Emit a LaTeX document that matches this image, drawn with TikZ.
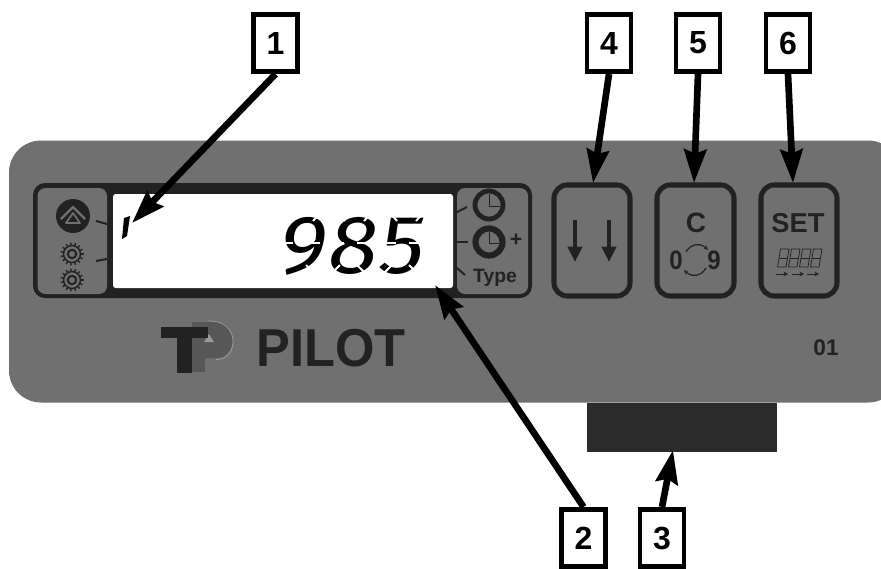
\documentclass[tikz,border=0pt]{standalone}
\usepackage{fontspec}
\setmainfont{Liberation Sans}
\newfontfamily\lcdfont[FakeSlant=0.14,LetterSpace=2]{Fira Sans}
\usetikzlibrary{arrows.meta,calc}
\definecolor{panelgray}{HTML}{707070}
\definecolor{darkline}{HTML}{222222}
\tikzset{
  x=0.75pt,y=-0.75pt,
  callout/.style={draw=black,fill=white,line width=3.6pt,minimum width=33pt,minimum height=43pt,inner sep=0pt,font=\bfseries\fontsize{24}{24}\selectfont},
  conn/.style={draw=black,line width=5pt,-{Stealth[length=25pt,width=16.5pt,inset=3pt]}},
  btn/.style={draw=darkline,fill=panelgray,line width=3.8pt,rounded corners=10pt},
  tick/.style={draw=darkline,line width=1.5pt},
  lbl/.style={text=darkline,inner sep=0pt},
  gearc/.style={draw=darkline,line width=1.1pt},
  cut/.style={draw=white,line width=1.5pt},
}
\newcommand{\geardraw}[2]{%
  \draw[gearc] (#1,#2) circle[radius=8.5];
  \draw[draw=darkline,line width=1.5pt] (#1,#2) circle[radius=4.2];
  \foreach \a in {0,24,...,336}
    \draw[draw=darkline,line width=1pt] ($(#1,#2)+(\a:8.5)$) -- ($(#1,#2)+(\a:11.5)$);
}
\newcommand{\smalleight}[1]{%
  \draw[draw=darkline,line width=0.55pt] (#1+1.5,267) -- (#1+4.5,249) -- (#1+13,249) -- (#1+10,267) -- cycle;
  \draw[draw=darkline,line width=0.55pt] (#1+3,258) -- (#1+11.5,258);
}
% cuts that split a digit into LCD segments: #1 = x of the lower left corner
\newcommand{\lcdcuts}[1]{%
  \draw[cut] (#1+5,210) -- (#1+14,221);
  \draw[cut] (#1+43,210) -- (#1+33,221);
  \draw[cut] (#1-2,276) -- (#1+9,265);
  \draw[cut] (#1+37,276) -- (#1+26,265);
  \draw[cut] (#1+1,243) -- (#1+13,243);
  \draw[cut] (#1+26,243) -- (#1+40,243);
}
\begin{document}
\begin{tikzpicture}
\useasboundingbox (0,0) rectangle (881,568);
\clip (0,0) rectangle (881,568);
\fill[white] (0,0) rectangle (881,568);
% panel
\fill[panelgray,rounded corners=24pt] (9,140.5) rectangle (900,402.5);
\fill[fill=black!83] (587,403) rectangle (777,452);
% display housing
\fill[darkline,rounded corners=9pt] (33,183) rectangle (532,298);
\fill[panelgray,rounded corners=6pt] (37.5,188) rectangle (107,294);
\fill[panelgray,rounded corners=6pt] (457,188) rectangle (528,294);
\fill[white,rounded corners=2pt] (113,194) rectangle (453,288);
% lone segment
\fill[black] (124,218) -- (130,216) -- (127,236) -- (122,239) -- cycle;
% LCD digits as text, split into segments
\node[inner sep=0pt,anchor=base,text=black,xscale=1.09] (lcd) at (349,273) {\lcdfont\fontsize{62}{62}\selectfont 985};
\lcdcuts{280}
\lcdcuts{331}
\lcdcuts{383}
% left icons
\fill[darkline] (73,216) circle[radius=17];
\draw[draw=panelgray,line width=1.7pt,line join=round] (61,219) -- (73,207) -- (85,219);
\draw[draw=panelgray,line width=1.3pt,line join=round] (73,213) -- (80,223) -- (66,223) -- cycle;
\geardraw{72}{254}
\geardraw{72}{280}
\draw[tick] (96,221) -- (107,224);
\draw[tick] (96,261) -- (107,259);
% right icons
\draw[draw=darkline,line width=3.6pt] (489,205) circle[radius=14];
\draw[draw=darkline,line width=0.7pt] (489,194) -- (489,206) -- (500,206);
\draw[draw=darkline,line width=4.6pt] (489,242) circle[radius=13.5];
\draw[draw=darkline,line width=0.7pt] (489,232) -- (489,243) -- (499,243);
\node[lbl,font=\bfseries\fontsize{16}{16}\selectfont] (plus) at (516,240) {+};
\node[lbl,font=\bfseries\fontsize{14.5}{14.5}\selectfont] (typ) at (495,278) {Type};
\draw[tick] (455,213) -- (467,207);
\draw[tick] (457,242) -- (468,242);
\draw[tick] (457,268) -- (465,275);
% buttons
\draw[btn] (554,185) rectangle (630,296);
\draw[btn] (657,185) rectangle (734,296);
\draw[btn] (761,185) rectangle (837,296);
\draw[draw=darkline,line width=3pt,-{Triangle[length=11.5pt,width=10.5pt]}] (575,220) -- (575,262);
\draw[draw=darkline,line width=3pt,-{Triangle[length=11.5pt,width=10.5pt]}] (609,220) -- (609,262);
\node[lbl,font=\bfseries\fontsize{21}{21}\selectfont] (c) at (696,223) {C};
\node[lbl,font=\bfseries\fontsize{20}{20}\selectfont,xscale=.9] (zero) at (676,260) {0};
\node[lbl,font=\bfseries\fontsize{20}{20}\selectfont,xscale=.9] (nine) at (714,260) {9};
\draw[draw=darkline,line width=0.9pt,-{Stealth[length=3.5pt,width=3pt]}] (686,252) .. controls (691,243) and (701,243) .. (708,250);
\draw[draw=darkline,line width=0.9pt,-{Stealth[length=3.5pt,width=3pt]}] (706,268) .. controls (701,277) and (691,277) .. (684,270);
\node[lbl,font=\bfseries\fontsize{20.5}{20.5}\selectfont] (set) at (798,223) {SET};
\smalleight{776}
\smalleight{787}
\smalleight{798}
\smalleight{809}
\foreach \xa in {776,792,807}
  \draw[draw=darkline,line width=0.7pt,-{Stealth[length=3.5pt,width=3.5pt]}] (\xa,274) -- (\xa+12,274);
% logo
\fill[black!66] (192,322) rectangle (205,372);
\fill[black!66] (205,322) -- (216,322) .. controls (238,322) and (238,358) .. (216,358) -- (205,358) -- cycle;
\draw[draw=black!40,line width=0.6pt] (208,321) .. controls (240,319) and (240,360) .. (216,359.5);
\fill[black!40] (204,342) -- (209,334) -- (214,342) -- cycle;
\fill[darkline] (161,327) rectangle (208,338);
\fill[darkline] (177,338) rectangle (192,373);
\node[lbl,font=\bfseries\fontsize{40}{40}\selectfont,xscale=.95] (pilot) at (331,348) {PILOT};
\node[lbl,font=\bfseries\fontsize{17}{17}\selectfont] (num) at (826,348) {01};
% callouts
\node[callout] (b1) at (275.5,43) {1};
\node[callout] (b2) at (583.5,538) {2};
\node[callout] (b3) at (662,538) {3};
\node[callout] (b4) at (609,43) {4};
\node[callout] (b5) at (698,43) {5};
\node[callout] (b6) at (788,43) {6};
\coordinate (t1) at (132,223);
\coordinate (t2) at (435,285);
\coordinate (t3) at (673,450);
\coordinate (t4) at (593,183);
\coordinate (t5) at (694,183);
\coordinate (t6) at (793,183);
\draw[conn] (b1.south) -- (t1);
\draw[conn] (b2.north) -- (t2);
\draw[conn] (b3.north) -- (t3);
\draw[conn] (b4.south) -- (t4);
\draw[conn] (b5.south) -- (t5);
\draw[conn] (b6.south) -- (t6);
\end{tikzpicture}
\end{document}
